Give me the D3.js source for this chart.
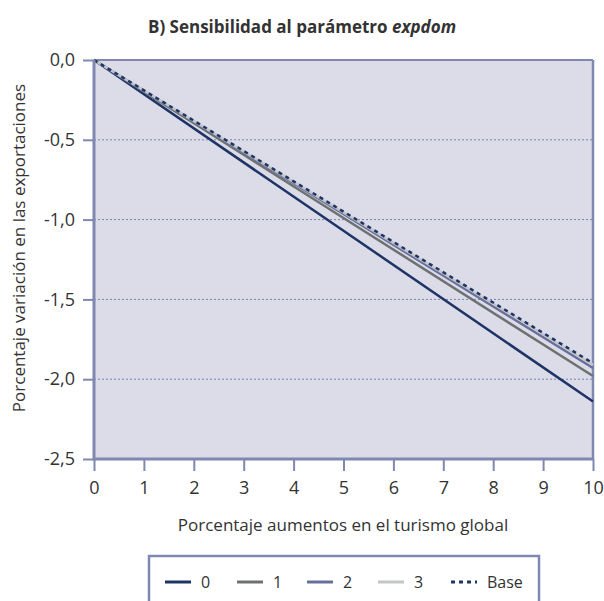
<!DOCTYPE html>
<html>
<head>
<meta charset="utf-8">
<script src="https://cdn.jsdelivr.net/npm/d3@7"></script>
<style>
  body { margin: 0; background: #fff; }
  text { font-family: "Open Sans", "Noto Sans", sans-serif; fill: #333; }
</style>
</head>
<body>
<script>
// values
const xVals = [0, 5, 10];
const serie0 = [0, -1.07, -2.14];
const serie1 = [0, -0.99, -1.98];
const serie2 = [0, -0.965, -1.93];
const serie3 = [0, -0.955, -1.91];
const serieBase = [0, -0.95, -1.90];
const seriesNames = ['0', '1', '2', '3', 'Base'];
const xTicks = [0, 1, 2, 3, 4, 5, 6, 7, 8, 9, 10];
const yTicks = [0, -0.5, -1, -1.5, -2, -2.5];

const w = 604, h = 601;
const pLeft = 94, pRight = 593, pTop = 60, pBottom = 459;
const axisCol = '#8088b2';

const series = [
  {name: seriesNames[0], vals: serie0, col: '#1f3466', dash: null},
  {name: seriesNames[1], vals: serie1, col: '#6e7171', dash: null},
  {name: seriesNames[2], vals: serie2, col: '#696e9c', dash: null},
  {name: seriesNames[3], vals: serie3, col: '#c2c6c6', dash: null},
  {name: seriesNames[4], vals: serieBase, col: '#1f3466', dash: '4,4'}
];

const svg = d3.select('body').append('svg').attr('width', w).attr('height', h);

const x = d3.scaleLinear().domain([0, 10]).range([pLeft, pRight]);
const y = d3.scaleLinear().domain([0, -2.5]).range([pTop, pBottom]);

// title
const title = svg.append('text')
  .attr('x', 302).attr('y', 33)
  .attr('text-anchor', 'middle')
  .style('font-size', '17px').style('font-weight', 'bold');
title.append('tspan').text('B) Sensibilidad al parámetro ');
title.append('tspan').style('font-style', 'italic').text('expdom');

// plot background
svg.append('rect')
  .attr('x', pLeft).attr('y', pTop)
  .attr('width', pRight - pLeft).attr('height', pBottom - pTop)
  .attr('fill', '#dcdce8');

// grid
svg.selectAll('line.grid')
  .data(yTicks.filter(d => d != 0 && d != -2.5))
  .enter().append('line')
  .attr('class', 'grid')
  .attr('x1', pLeft).attr('x2', pRight)
  .attr('y1', d => y(d)).attr('y2', d => y(d))
  .attr('stroke', '#7b80b4').attr('stroke-width', 1)
  .attr('stroke-dasharray', '2,2');

// frame
svg.append('line').attr('x1', pLeft).attr('x2', pRight).attr('y1', pTop).attr('y2', pTop)
  .attr('stroke', axisCol).attr('stroke-width', 2);
svg.append('line').attr('x1', pRight).attr('x2', pRight).attr('y1', pTop).attr('y2', pBottom)
  .attr('stroke', axisCol).attr('stroke-width', 2.5);

// lines
const line = d3.line().x((d, i) => x(xVals[i])).y(d => y(d));
series.forEach(s => {
  svg.append('path')
    .attr('d', line(s.vals))
    .attr('fill', 'none')
    .attr('stroke', s.col)
    .attr('stroke-width', 2.5)
    .attr('stroke-dasharray', s.dash);
});

// axes
const yAxis = svg.append('g').attr('transform', `translate(${pLeft},0)`)
  .call(d3.axisLeft(y).tickValues(yTicks).tickSize(11).tickPadding(8)
    .tickFormat(d => d3.format('.1f')(d).replace('.', ',').replace('−', '-')));
const xAxis = svg.append('g').attr('transform', `translate(0,${pBottom})`)
  .call(d3.axisBottom(x).tickValues(xTicks).tickSize(12).tickPadding(10));

[yAxis, xAxis].forEach(a => {
  a.select('.domain').remove();
  a.selectAll('line').attr('stroke', axisCol).attr('stroke-width', 2);
  a.selectAll('text').style('font-size', '18px').attr('fill', '#333')
    .style('font-family', '"Open Sans", sans-serif');
});
svg.append('line').attr('x1', pLeft).attr('x2', pLeft).attr('y1', pTop).attr('y2', pBottom + 1.5)
  .attr('stroke', axisCol).attr('stroke-width', 3);
svg.append('line').attr('x1', pLeft).attr('x2', pRight + 1).attr('y1', pBottom).attr('y2', pBottom)
  .attr('stroke', axisCol).attr('stroke-width', 3);

// axis titles
svg.append('text')
  .attr('transform', 'translate(25,248) rotate(-90)')
  .attr('text-anchor', 'middle')
  .style('font-size', '17px')
  .text('Porcentaje variación en las exportaciones');
svg.append('text')
  .attr('x', 343).attr('y', 531)
  .attr('text-anchor', 'middle')
  .style('font-size', '17px')
  .text('Porcentaje aumentos en el turismo global');

// legend
const lg = svg.append('g').attr('id', 'legend');
lg.append('rect')
  .attr('x', 149).attr('y', 556)
  .attr('width', 390).attr('height', 60)
  .attr('fill', 'none').attr('stroke', axisCol).attr('stroke-width', 2.5);
const lgX = [165, 237, 307, 378, 451];
series.forEach((s, i) => {
  lg.append('line')
    .attr('x1', lgX[i]).attr('x2', lgX[i] + 26)
    .attr('y1', 582).attr('y2', 582)
    .attr('stroke', s.col).attr('stroke-width', 3)
    .attr('stroke-dasharray', s.dash);
  lg.append('text')
    .attr('x', lgX[i] + 36).attr('y', 588)
    .style('font-size', '16px')
    .text(s.name);
});
</script>
</body>
</html>
